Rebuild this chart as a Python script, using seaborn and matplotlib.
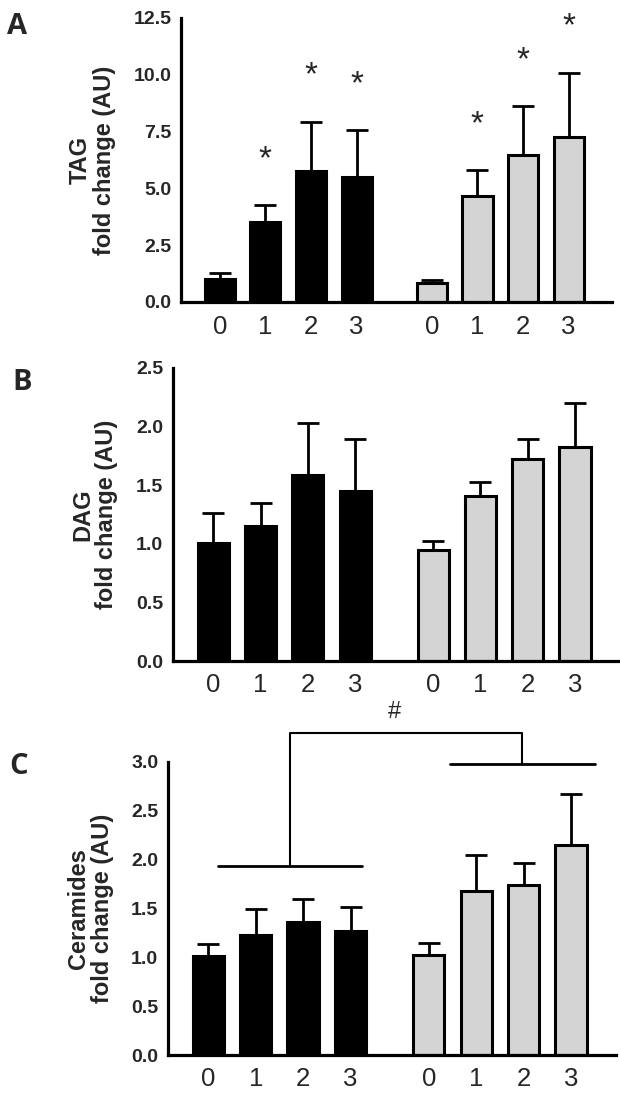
import numpy as np
import pandas as pd
import matplotlib
matplotlib.use("Agg")
import matplotlib.pyplot as plt
from matplotlib.ticker import FormatStrFormatter
import seaborn as sns

# time points, two groups of four bars each (black group, grey group)
timepoints = ["0", "1", "2", "3"]
group_names = ["black", "grey"]

# panel A: TAG (bar height, top of error bar, significance star)
tag_mean = [1.0, 3.53, 5.76, 5.49, 0.82, 4.66, 6.47, 7.25]
tag_top = [1.28, 4.26, 7.94, 7.57, 0.96, 5.81, 8.63, 10.1]
tag_sig = [False, True, True, True, False, True, True, True]

# panel B: DAG
dag_mean = [1.01, 1.15, 1.59, 1.45, 0.95, 1.41, 1.72, 1.83]
dag_top = [1.26, 1.35, 2.03, 1.89, 1.02, 1.53, 1.89, 2.20]

# panel C: Ceramides
cer_mean = [1.01, 1.23, 1.36, 1.27, 1.02, 1.68, 1.74, 2.15]
cer_top = [1.14, 1.49, 1.60, 1.52, 1.15, 2.05, 1.97, 2.67]

GROUP_GAP = 4.65
positions = [i for i in range(4)] + [GROUP_GAP + i for i in range(4)]
colors = {"black": "black", "grey": "#d4d4d4"}

sns.set_style("white")
plt.rcParams["font.family"] = ["Liberation Sans", "DejaVu Sans"]

W, H = 620, 1096
fig = plt.figure(figsize=(W / 100, H / 100), dpi=100)


def px_axes(left, right, top, bottom):
    return fig.add_axes([left / W, 1 - bottom / H, (right - left) / W, (bottom - top) / H])


def draw_panel(ax, mean, top, ylabel, ymax, ystep, label_x):
    df = pd.DataFrame({
        "pos": positions,
        "value": mean,
        "group": [group_names[0]] * 4 + [group_names[1]] * 4,
    })
    sns.barplot(data=df, x="pos", y="value", hue="group", palette=colors,
                native_scale=True, dodge=False, width=0.66, errorbar=None,
                edgecolor="black", linewidth=2.2, legend=False, ax=ax)
    err = np.array(top) - np.array(mean)
    ax.errorbar(positions, mean, yerr=[np.zeros(len(mean)), err], fmt="none",
                ecolor="black", elinewidth=2.0, capsize=8, capthick=2.0, zorder=3)

    ax.set_xlim(-0.85, 8.6)
    ax.set_ylim(0, ymax)
    ax.set_xticks(positions)
    ax.set_xticklabels(timepoints * 2)
    ax.set_xticks([1.5, GROUP_GAP + 1.5], minor=True)
    ax.tick_params(axis="x", which="major", length=0, pad=9, labelsize=18.5)
    ax.tick_params(axis="x", which="minor", length=7, width=2.3, direction="out")
    for lbl in ax.get_xticklabels():
        lbl.set_fontfamily(["Liberation Sans Narrow", "Liberation Sans", "DejaVu Sans"])
    ax.set_yticks(np.arange(0, ymax + 1e-9, ystep))
    ax.yaxis.set_major_formatter(FormatStrFormatter("%.1f"))
    ax.tick_params(axis="y", length=6, width=2.3, pad=1, labelsize=14, direction="out")
    for lbl in ax.get_yticklabels():
        lbl.set_fontweight("bold")
    for side in ["top", "right"]:
        ax.spines[side].set_visible(False)
    for side in ["left", "bottom"]:
        ax.spines[side].set_linewidth(2.3)
        ax.spines[side].set_color("black")
    ax.set_xlabel("")
    ax.set_ylabel(ylabel, fontsize=17, fontweight="bold", va="center",
                  linespacing=1.05)
    ax.yaxis.set_label_coords(label_x, 0.5)


# A
axA = px_axes(181, 612, 18, 302)
draw_panel(axA, tag_mean, tag_top, "TAG\nfold change (AU)", 12.5, 2.5, -0.206)
for p, t, s in zip(positions, tag_top, tag_sig):
    if s:
        axA.text(p, t + 2.0, "*", ha="center", va="center", fontsize=24,
                 clip_on=False)

# B
axB = px_axes(173, 620, 368, 661)
draw_panel(axB, dag_mean, dag_top, "DAG\nfold change (AU)", 2.5, 0.5, -0.175)

# C
axC = px_axes(168, 616, 762, 1055)
draw_panel(axC, cer_mean, cer_top, "Ceramides\nfold change (AU)", 3.0, 0.5, -0.172)

# group comparison bracket in C
b0, b1 = positions[0] + 0.2, positions[3] + 0.25
g0, g1 = positions[4] + 0.45, positions[7] + 0.5
yb, yg, ytop = 1.94, 2.98, 3.30
bc, gc = (b0 + b1) / 2, (g0 + g1) / 2
axC.plot([b0, b1], [yb, yb], color="black", lw=2.0, clip_on=False)
axC.plot([g0, g1], [yg, yg], color="black", lw=2.0, clip_on=False)
axC.plot([bc, bc, gc, gc], [yb, ytop, ytop, yg], color="black", lw=1.5,
         clip_on=False)
axC.text((bc + gc) / 2 - 0.25, 3.51, "#", ha="center", va="center", fontsize=17,
         clip_on=False)

# panel letters
for letter, (x, y) in zip("ABC", [(17, 27), (22, 383), (19, 767)]):
    fig.text(x / W, 1 - y / H, letter, ha="center", va="center", fontsize=21,
             fontfamily=["Open Sans", "DejaVu Sans"], fontweight="bold")

fig.savefig("out.png", dpi=100)
